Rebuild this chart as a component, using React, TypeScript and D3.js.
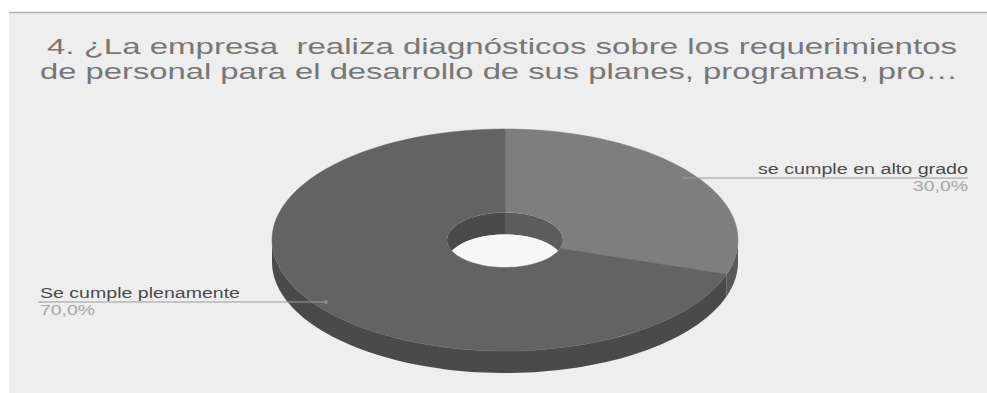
import React from "react";
import * as d3 from "d3";

const titleLines = [
  "4. ¿La empresa  realiza diagnósticos sobre los requerimientos",
  "de personal para el desarrollo de sus planes, programas, pro…",
];
const categories = ["se cumple en alto grado", "Se cumple plenamente"];
const values = [30, 70];
const percentLabels = ["30,0%", "70,0%"];
const topColors = ["#7e7e7e", "#636363"];
const sideColors = ["#585858", "#4a4a4a"];
const wallColors = ["#5d5d5d", "#4a4a4a"];

const W = 987;
const H = 393;
const cx = 505;
const cy = 240;
const rx = 233;
const ry = 111;
const irx = 58;
const iry = 27.5;
const depth = 22;

function pt(t: number, a: number, b: number, dy = 0): [number, number] {
  return [cx + a * Math.sin(t), cy - b * Math.cos(t) + dy];
}

function arcPts(t0: number, t1: number, a: number, b: number, dy = 0, n = 80) {
  const out: [number, number][] = [];
  for (let i = 0; i <= n; i++) {
    const t = t0 + ((t1 - t0) * i) / n;
    out.push(pt(t, a, b, dy));
  }
  return out;
}

const line = d3.line<[number, number]>().x((d) => d[0]).y((d) => d[1]);

export default function App() {
  const pie = d3.pie<number>().sort(null).startAngle(0).endAngle(2 * Math.PI);
  const arcs = pie(values);

  const sides: React.ReactNode[] = [];
  const walls: React.ReactNode[] = [];
  const tops: React.ReactNode[] = [];
  const labels: React.ReactNode[] = [];

  arcs.forEach((a, i) => {
    const s0 = Math.max(a.startAngle, Math.PI / 2);
    const s1 = Math.min(a.endAngle, (3 * Math.PI) / 2);
    if (s1 > s0) {
      const p = [...arcPts(s0, s1, rx, ry), ...arcPts(s1, s0, rx, ry, depth)];
      sides.push(<path key={"s" + i} d={line(p) + "Z"} fill={sideColors[i]} />);
    }
    const ranges: [number, number][] = [
      [0, Math.PI / 2],
      [(3 * Math.PI) / 2, 2 * Math.PI],
    ];
    ranges.forEach(([r0, r1], k) => {
      const w0 = Math.max(a.startAngle, r0);
      const w1 = Math.min(a.endAngle, r1);
      if (w1 > w0) {
        const p = [...arcPts(w0, w1, irx, iry), ...arcPts(w1, w0, irx, iry, depth)];
        walls.push(<path key={"w" + i + k} d={line(p) + "Z"} fill={wallColors[i]} />);
      }
    });
    const p = [...arcPts(a.startAngle, a.endAngle, rx, ry), ...arcPts(a.endAngle, a.startAngle, irx, iry)];
    tops.push(<path key={"t" + i} d={line(p) + "Z"} fill={topColors[i]} stroke={topColors[i]} strokeWidth={0.5} />);

    const mid = (a.startAngle + a.endAngle) / 2;
    const [dx, dy] = pt(mid, rx * 0.95, ry * 0.95);
    const right = dx > cx;
    const endX = right ? 968 : 38;
    labels.push(
      <g key={"l" + i}>
        <line x1={dx} y1={dy} x2={endX} y2={dy} stroke="#9a9a9a" strokeWidth={1.2} />
        <circle cx={dx} cy={dy} r={2} fill="#8c8c8c" />
        <text
          x={right ? 968 : 40}
          y={dy - 4}
          textAnchor={right ? "end" : "start"}
          fontSize={14}
          fill="#4a4a4a"
          textLength={right ? 210 : 200}
          lengthAdjust="spacingAndGlyphs"
        >
          {categories[i]}
        </text>
        <text
          x={right ? 968 : 40}
          y={dy + 13}
          textAnchor={right ? "end" : "start"}
          fontSize={14}
          fill="#a6a6a6"
          textLength={55}
          lengthAdjust="spacingAndGlyphs"
        >
          {percentLabels[i]}
        </text>
      </g>
    );
  });

  const holeClip = line(arcPts(0, 2 * Math.PI, irx, iry)) + "Z";
  const bottomHole = line(arcPts(0, 2 * Math.PI, irx, iry, depth)) + "Z";

  return (
    <svg
      width={W}
      height={H}
      style={{ position: "absolute", left: 0, top: 0, fontFamily: "'Liberation Sans', Arial, sans-serif" }}
    >
      <rect x={0} y={0} width={W} height={H} fill="#ffffff" />
      <rect x={9} y={12} width={W - 9} height={H - 12} fill="#eeeeee" />
      <line x1={9} y1={12.5} x2={W} y2={12.5} stroke="#b5b5b5" strokeWidth={1.5} />
      <defs>
        <clipPath id="hole">
          <path d={holeClip} />
        </clipPath>
      </defs>
      <text x={47} y={54} fontSize={22} fill="#777777" textLength={910} lengthAdjust="spacingAndGlyphs" style={{ whiteSpace: "pre" }}>
        {titleLines[0]}
      </text>
      <text x={40} y={79} fontSize={22} fill="#777777" textLength={918} lengthAdjust="spacingAndGlyphs" style={{ whiteSpace: "pre" }}>
        {titleLines[1]}
      </text>
      {sides}
      <g clipPath="url(#hole)">
        {walls}
        <path d={bottomHole} fill="#f7f7f7" />
      </g>
      {tops}
      {labels}
    </svg>
  );
}
